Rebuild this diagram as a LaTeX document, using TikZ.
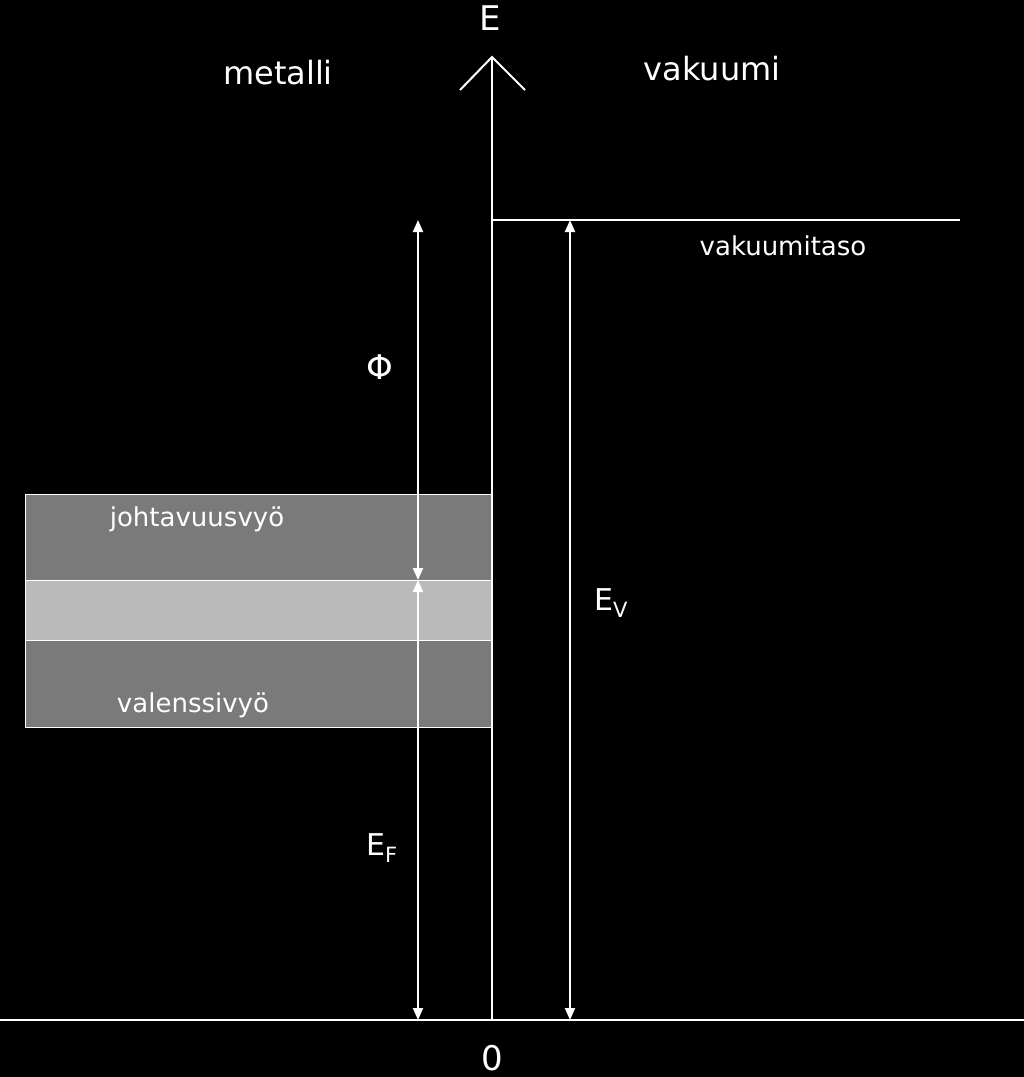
\documentclass[tikz,border=0pt]{standalone}
\usepackage{fontspec}
\setmainfont{DejaVu Sans}
\usetikzlibrary{arrows.meta}
\begin{document}
\begin{tikzpicture}[x=1pt,y=-1pt,
  wl/.style={white,line width=2pt},
  dbl/.style={white,line width=2pt,{Triangle[width=10pt,length=12pt]}-{Triangle[width=10pt,length=12pt]}},
  lbl/.style={text=white,inner sep=0pt},
  band/.style={draw=white,line width=1pt}]
\fill[black] (0,0) rectangle (1024,1077);
\useasboundingbox (0,0) rectangle (1024,1077);
\fill[band,fill=black!52] (25,494) rectangle (492,580);
\fill[band,fill=black!27] (25,580) rectangle (492,640);
\fill[band,fill=black!52] (25,640) rectangle (492,727);
\coordinate (top) at (492,57);
\coordinate (bot) at (492,1020);
\draw[wl] (bot) -- (top);
\draw[wl] (460,90) -- (top) -- (525,90);
\draw[wl] (0,1020) -- (1024,1020);
\draw[wl] (492,220) -- (960,220);
\coordinate (p1) at (418,220); \coordinate (p2) at (418,580); \coordinate (p3) at (418,1020);
\coordinate (v1) at (570,220); \coordinate (v2) at (570,1020);
\draw[dbl] (p1) -- (p2);
\draw[dbl] (p2) -- (p3);
\draw[dbl] (v1) -- (v2);
\node[lbl,font=\fontsize{34}{40}\selectfont] (E) at (490,18) {E};
\node[lbl,font=\fontsize{34}{40}\selectfont] (zero) at (492,1058) {0};
\node[lbl,font=\fontsize{32}{38}\selectfont] (met) at (278,73) {metalli};
\node[lbl,font=\fontsize{32}{38}\selectfont] (vak) at (712,69) {vakuumi};
\node[lbl,font=\fontsize{26}{30}\selectfont] (vt) at (783,246) {vakuumitaso};
\node[lbl,font=\fontsize{26}{30}\selectfont] (jv) at (197,519) {johtavuusvyö};
\node[lbl,font=\fontsize{26}{30}\selectfont] (vv) at (193,705) {valenssivyö};
\node[lbl,font=\fontsize{34}{40}\selectfont] (phi) at (380,367) {Φ};
\node[lbl,font=\fontsize{30}{36}\selectfont] (ef) at (382,848) {E\textsubscript{F}};
\node[lbl,font=\fontsize{30}{36}\selectfont] (ev) at (611,603) {E\textsubscript{V}};
\end{tikzpicture}
\end{document}
